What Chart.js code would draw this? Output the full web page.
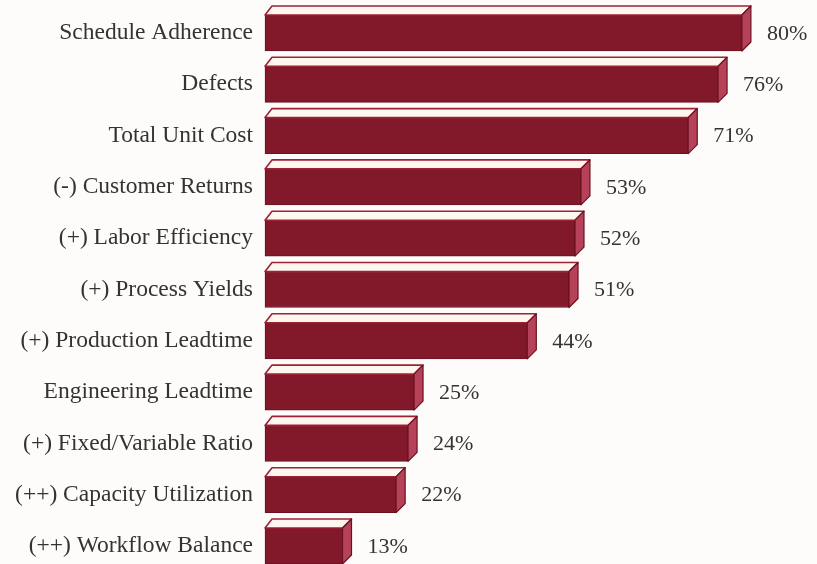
<!DOCTYPE html>
<html>
<head>
<meta charset="utf-8">
<title>Performance Measures</title>
<script src="https://cdn.jsdelivr.net/npm/chart.js@4.4.1/dist/chart.umd.min.js"></script>
<style>
  html, body { margin: 0; padding: 0; background: #fdfcfa; }
  #wrap { width: 817px; height: 564px; }
</style>
</head>
<body>
<div id="wrap"><canvas id="measuresChart" width="817" height="564"></canvas></div>
<script>
// Categories, top to bottom
var categories = [
  "Schedule Adherence",
  "Defects",
  "Total Unit Cost",
  "(-) Customer Returns",
  "(+) Labor Efficiency",
  "(+) Process Yields",
  "(+) Production Leadtime",
  "Engineering Leadtime",
  "(+) Fixed/Variable Ratio",
  "(++) Capacity Utilization",
  "(++) Workflow Balance"
];

// Percent of respondents for each measure
var percents = [80, 76, 71, 53, 52, 51, 44, 25, 24, 22, 13];

var frontColor = "#82192a";
var edgeColor = "#6a1120";
var sideColor = "#b6425a";
var topColor = "#fdf7f0";
var topEdge = "#9c2236";
var textColor = "#333333";
var serif = "'Liberation Serif', 'Times New Roman', serif";

// Extruded look: top face and right side face drawn on each bar, plus value text
var depthPlugin = {
  id: "depth",
  afterDatasetsDraw: function (chart) {
    var c = chart.ctx;
    var meta = chart.getDatasetMeta(0);
    var dx = 9, dy = 9;
    meta.data.forEach(function (bar, i) {
      var p = bar.getProps(["x", "y", "base", "height"], true);
      var x0 = p.base, x1 = p.x;
      var yt = p.y - p.height / 2, yb = p.y + p.height / 2;

      c.save();
      c.lineJoin = "round";

      // top face
      c.beginPath();
      c.moveTo(x0, yt);
      c.lineTo(x0 + dx - 2, yt - dy);
      c.lineTo(x1 + dx, yt - dy);
      c.lineTo(x1, yt);
      c.closePath();
      c.fillStyle = topColor;
      c.fill();
      c.lineWidth = 1.6;
      c.strokeStyle = topEdge;
      c.stroke();

      // right side face
      c.beginPath();
      c.moveTo(x1, yt);
      c.lineTo(x1 + dx, yt - dy);
      c.lineTo(x1 + dx, yb - dy);
      c.lineTo(x1, yb);
      c.closePath();
      c.fillStyle = sideColor;
      c.fill();
      c.lineWidth = 1.2;
      c.strokeStyle = edgeColor;
      c.stroke();

      // value label
      c.font = "22px " + serif;
      c.fillStyle = textColor;
      c.textAlign = "left";
      c.textBaseline = "middle";
      c.fillText(percents[i] + "%", x1 + dx + 16, p.y + 1);
      c.restore();
    });
  }
};

var ctx = document.getElementById("measuresChart").getContext("2d");

var measuresChart = new Chart(ctx, {
  type: "bar",
  data: {
    labels: categories,
    datasets: [
      {
        data: percents,
        backgroundColor: frontColor,
        borderColor: edgeColor,
        borderWidth: 1,
        borderSkipped: false,
        barThickness: 36,
        clip: false
      }
    ]
  },
  options: {
    indexAxis: "y",
    responsive: false,
    animation: false,
    layout: {
      padding: { top: 33, bottom: 18, left: 0, right: 0 }
    },
    plugins: {
      legend: { display: false },
      tooltip: { enabled: false }
    },
    scales: {
      x: {
        display: false,
        min: 0,
        max: 92.6
      },
      y: {
        offset: false,
        grid: { display: false, drawTicks: false },
        border: { display: false },
        ticks: {
          color: textColor,
          padding: 12,
          font: { family: serif, size: 23.5 }
        },
        afterFit: function (scale) {
          // fixed label column; don't let label overhang shrink the plot
          scale.width = 265;
          scale.paddingTop = 0;
          scale.paddingBottom = 0;
        }
      }
    }
  },
  plugins: [depthPlugin]
});
</script>
</body>
</html>
